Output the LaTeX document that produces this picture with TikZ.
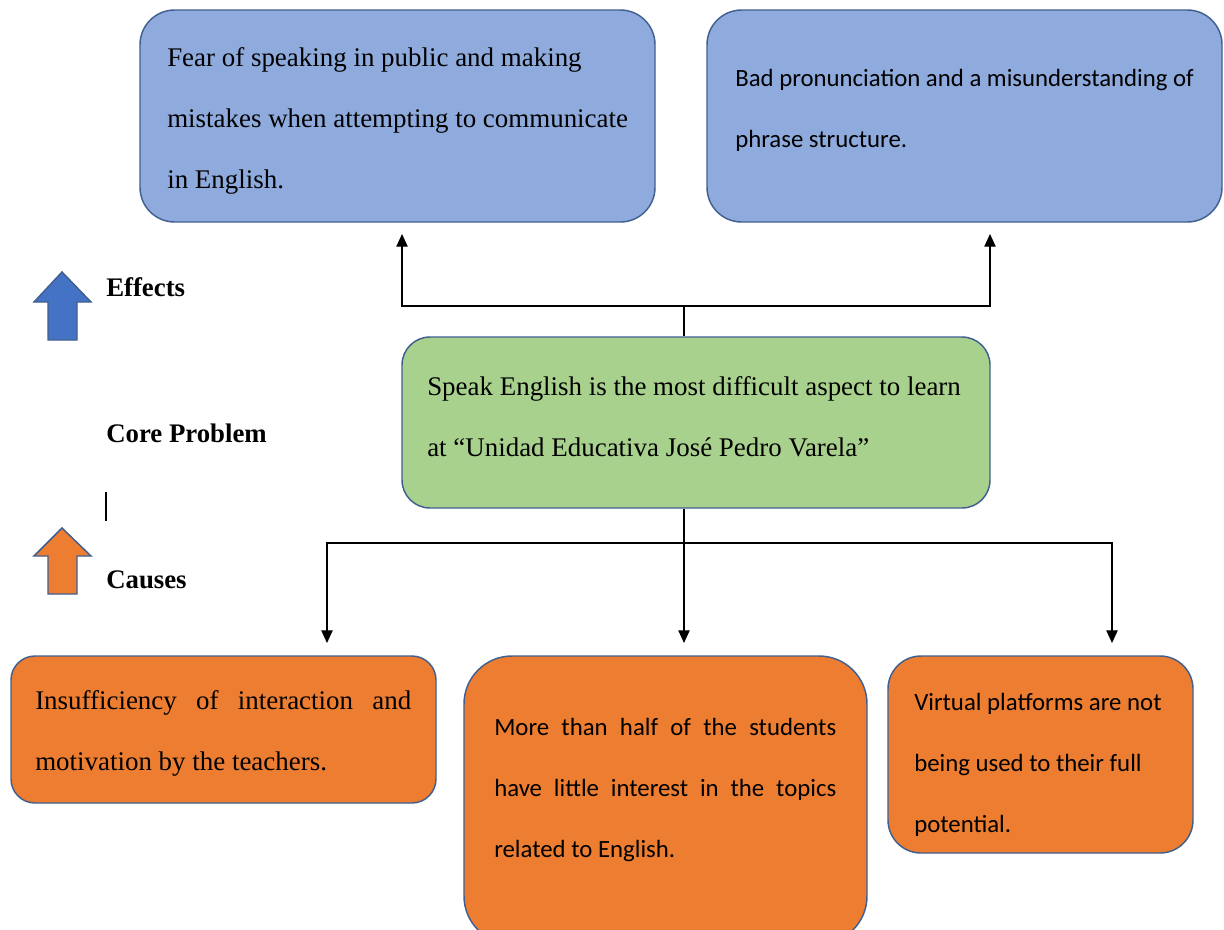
\documentclass[tikz,border=0pt]{standalone}
\usepackage{fontspec}
\setmainfont{Liberation Serif}
\newfontfamily\calibri{Carlito}
\usetikzlibrary{arrows.meta}
\definecolor{boxblue}{HTML}{8FAADC}
\definecolor{boxgreen}{HTML}{A9D18E}
\definecolor{boxorange}{HTML}{ED7D31}
\definecolor{edgeblue}{HTML}{41608F}
\definecolor{arrblue}{HTML}{4472C4}
\begin{document}
\begin{tikzpicture}[x=0.75pt,y=-0.75pt,
  box/.style={draw=edgeblue, line width=1.1pt, inner sep=0pt},
  serif/.style={font=\fontsize{20.2}{45.75}\selectfont, align=left, inner sep=0pt, anchor=west},
  sans/.style={font=\calibri\fontsize{18.6}{45.75}\selectfont, align=left, inner sep=0pt, anchor=west},
  lbl/.style={font=\bfseries\fontsize{20.1}{23}\selectfont, inner sep=0pt, anchor=west},
  conn/.style={line width=0.9pt, -{Triangle[length=9.5pt,width=8.5pt]}},
  bigarrow/.style={draw=edgeblue, line width=1.1pt, line join=miter}
]
\path[use as bounding box, clip] (0,0) rectangle (1224,929);

% boxes
\node[box, fill=boxblue, rounded corners=26pt, minimum width=386.25pt, minimum height=159pt] (E1) at (397.5,116) {};
\node[box, fill=boxblue, rounded corners=26pt, minimum width=386.25pt, minimum height=159pt] (E2) at (964.5,116) {};
\node[box, fill=boxgreen, rounded corners=21pt, minimum width=441pt, minimum height=128.25pt] (C) at (696,422.5) {};
\node[box, fill=boxorange, rounded corners=18pt, minimum width=318.75pt, minimum height=110.25pt] (B1) at (223.5,729.5) {};
\node[box, fill=boxorange, rounded corners=36pt, minimum width=302.25pt, minimum height=216pt] (B2) at (665.5,800) {};
\node[box, fill=boxorange, rounded corners=24.75pt, minimum width=228.75pt, minimum height=147.75pt] (B3) at (1040.5,754.5) {};

% texts
\node[serif] (tE1) at (167,121) {Fear of speaking in public and making\\mistakes when attempting to communicate\\in English.};
\node[sans] (tE2) at (735,110) {Bad pronunciation and a misunderstanding of\\phrase structure.};
\node[serif] (tC) at (427,417) {Speak English is the most difficult aspect to learn\\at “Unidad Educativa José Pedro Varela”};
\node[serif] (tB1) at (35,733) {\makebox[282pt][s]{Insufficiency of interaction and}\\motivation by the teachers.};
\node[sans] (tB2) at (494,790) {\makebox[256.5pt][s]{More than half of the students}\\\makebox[256.5pt][s]{have little interest in the topics}\\related to English.};
\node[sans] (tB3) at (914,765) {Virtual platforms are not\\being used to their full\\potential.};

% side labels
\node[lbl] (lE) at (106,287) {Effects};
\node[lbl] (lC) at (106,433) {Core Problem};
\node[lbl] (lCa) at (106,580) {Causes};
\draw[line width=0.8pt] (106,492) -- (106,521);

% block arrows
\draw[bigarrow, fill=arrblue] (62,272) -- (91,302) -- (77,302) -- (77,340) -- (48,340) -- (48,302) -- (34,302) -- cycle;
\draw[bigarrow, fill=boxorange] (62,528) -- (91,556) -- (77,556) -- (77,594) -- (48,594) -- (48,556) -- (34,556) -- cycle;

% connectors
\coordinate (jt) at (684,306);
\coordinate (jb) at (684,543);
\coordinate (t1) at (402,234);
\coordinate (t2) at (990,234);
\coordinate (b1) at (327,643);
\coordinate (b2) at (684,643);
\coordinate (b3) at (1112,643);
\draw[conn] (jt |- C.north) -- (jt) -| (t1);
\draw[conn] (jt |- C.north) -- (jt) -| (t2);
\draw[conn] (jb |- C.south) -- (jb) -| (b1);
\draw[conn] (jb |- C.south) -- (b2);
\draw[conn] (jb |- C.south) -- (jb) -| (b3);
\end{tikzpicture}
\end{document}
